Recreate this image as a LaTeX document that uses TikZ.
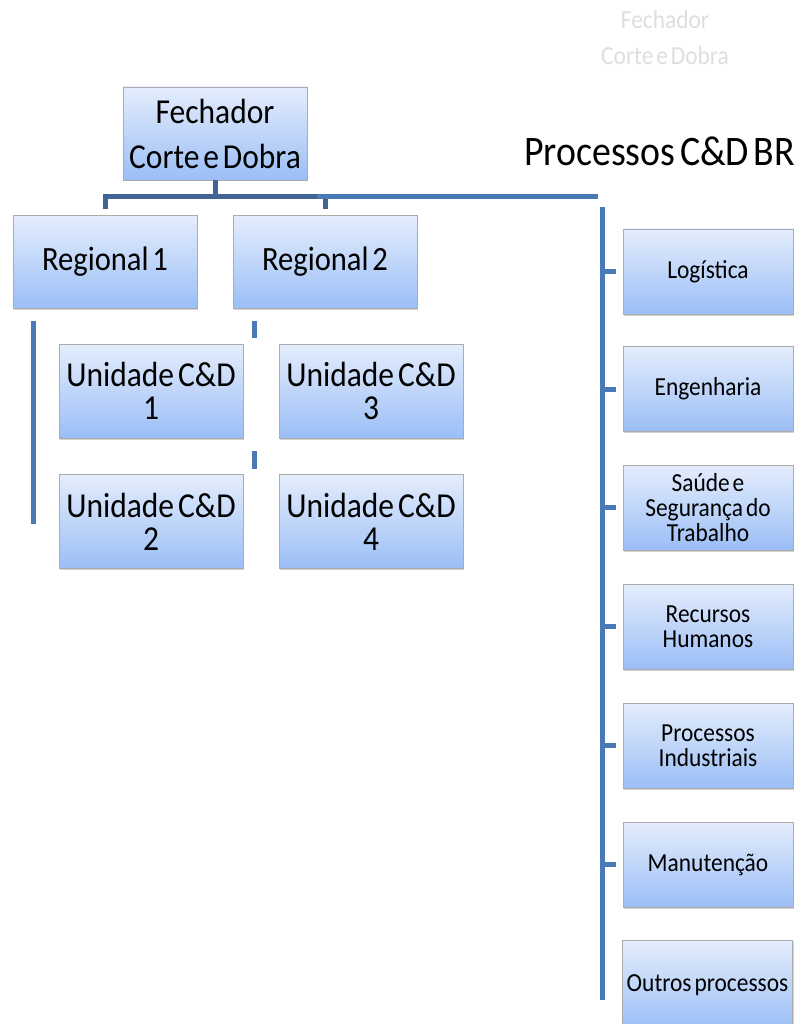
\documentclass[tikz,border=0pt]{standalone}
\usepackage{fontspec}
\setmainfont{Carlito}[FakeStretch=0.9, WordSpace=0.55]
\usetikzlibrary{shadows}
\definecolor{conncol}{RGB}{74,122,181}
\definecolor{conndark}{RGB}{64,100,150}
\definecolor{boxtop}{RGB}{228,237,252}
\definecolor{boxbot}{RGB}{155,190,246}
\definecolor{faint}{RGB}{222,222,222}
\tikzset{
  box/.style={draw=gray!65, line width=0.8pt, top color=boxtop, bottom color=boxbot,
    inner sep=0pt, align=center, text=black,
    drop shadow={shadow xshift=1pt, shadow yshift=-1.5pt, fill=gray!45, opacity=0.8}},
  bigbox/.style={box, minimum width=184pt, minimum height=93pt},
  sidebox/.style={box, minimum width=170pt, minimum height=85pt, font=\fontsize{26}{25}\selectfont},
  conn/.style={draw=conncol, line width=5pt},
  darkconn/.style={draw=conndark, line width=5pt},
}
\begin{document}
\begin{tikzpicture}[x=1pt,y=-1pt]
\useasboundingbox (0,0) rectangle (800,1024);

% faint header text
\node[text=faint, font=\fontsize{26}{36}\selectfont, align=center, inner sep=0pt] (faint) at (665,38) {Fechador\\Corte e Dobra};

% title
\node[anchor=base west, inner sep=0pt, font=\fontsize{42}{45}\selectfont] (title) at (524,166) {Processos C\&D BR};

% main boxes
\node[bigbox, font=\fontsize{35}{45}\selectfont] (fech) at (215,133.5) {Fechador\\Corte e Dobra};
\node[bigbox, font=\fontsize{34}{40}\selectfont] (reg1) at (105,262) {Regional 1};
\node[bigbox, font=\fontsize{34}{40}\selectfont] (reg2) at (325,262) {Regional 2};
\node[bigbox, minimum height=94pt, font=\fontsize{35}{33}\selectfont] (un1) at (151,391) {Unidade C\&D\\1};
\node[bigbox, minimum height=94pt, font=\fontsize{35}{33}\selectfont] (un3) at (371,391) {Unidade C\&D\\3};
\node[bigbox, minimum height=94pt, font=\fontsize{35}{33}\selectfont] (un2) at (151,521.5) {Unidade C\&D\\2};
\node[bigbox, minimum height=94pt, font=\fontsize{35}{33}\selectfont] (un4) at (371,521.5) {Unidade C\&D\\4};

% side boxes
\node[sidebox] (logi) at (708,271.5) {Logística};
\node[sidebox] (eng) at (708,389) {Engenharia};
\node[sidebox] (sst) at (708,507.5) {Saúde e\\Segurança do\\Trabalho};
\node[sidebox] (rh) at (708,626.5) {Recursos\\Humanos};
\node[sidebox] (pi) at (708,745.5) {Processos\\Industriais};
\node[sidebox] (man) at (708,864.5) {Manutenção};
\node[sidebox, minimum height=90pt] (outros) at (707.5,985) {Outros processos};

% connectors
\coordinate (bus) at (104,197);
\coordinate (busmid) at (317,197);
\coordinate (busR) at (598,197);
\draw[darkconn] ([yshift=6pt]reg1.north) -- (reg1.north |- bus) -- (reg2.north |- bus) -- ([yshift=6pt]reg2.north);
\draw[darkconn] (fech.south) -- (fech.south |- bus);
\draw[conn] (busmid) -- (busR);

\coordinate (spT) at (602,207);
\coordinate (spB) at (602,1000);
\draw[conn] (spT) -- (spB);
\foreach \n in {logi,eng,sst,rh,pi,man}{
  \draw[conn] (spT |- \n.west) -- ([xshift=-7pt]\n.west);
}

\coordinate (lv) at (33,321);
\draw[conn] (lv) -- (lv |- un2.west) -- ([xshift=-23pt]un2.west);
\draw[conn] (lv |- un1.west) -- ([xshift=-23pt]un1.west);

\coordinate (d1) at (254,321);
\coordinate (d2) at (254,451);
\draw[conn] (d1) -- ++(0,17);
\draw[conn] (d2) -- ++(0,18);
\end{tikzpicture}
\end{document}
